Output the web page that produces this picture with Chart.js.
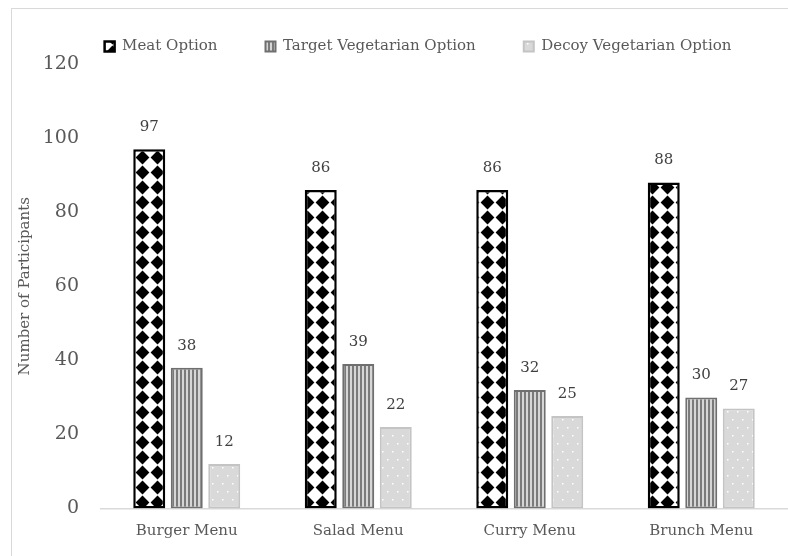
<!DOCTYPE html>
<html>
<head>
<meta charset="utf-8">
<title>Menu choices</title>
<script src="https://cdn.jsdelivr.net/npm/chart.js@4.4.0/dist/chart.umd.min.js"></script>
<style>
  html, body { margin: 0; padding: 0; background: #fff; overflow: hidden; }
  #wrap { position: relative; width: 788px; height: 556px; }
  #frame {
    position: absolute; left: 11px; top: 8px; width: 900px; height: 700px;
    border-left: 1px solid #d9d9d9; border-top: 1px solid #d9d9d9;
    pointer-events: none;
  }
</style>
</head>
<body>
<div id="wrap">
  <canvas id="myChart" width="788" height="556"></canvas>
  <div id="frame"></div>
</div>
<script>
/* globals Chart:false */

var menus = ['Burger Menu', 'Salad Menu', 'Curry Menu', 'Brunch Menu']
var seriesNames = ['Meat Option', 'Target Vegetarian Option', 'Decoy Vegetarian Option']
var meatOption = [97, 86, 86, 88]
var targetVegetarian = [38, 39, 32, 30]
var decoyVegetarian = [12, 22, 25, 27]
var yMax = 120
var yStep = 20

;(function () {
  'use strict'

  var ctx = document.getElementById('myChart')
  var g2d = ctx.getContext('2d')

  // black diamonds on white
  function diamonds () {
    var c = document.createElement('canvas')
    c.width = 15
    c.height = 15
    var g = c.getContext('2d')
    g.fillStyle = '#fff'
    g.fillRect(0, 0, 15, 15)
    g.fillStyle = '#000'
    g.beginPath()
    g.moveTo(7.5, 0.6)
    g.lineTo(14.4, 7.5)
    g.lineTo(7.5, 14.4)
    g.lineTo(0.6, 7.5)
    g.closePath()
    g.fill()
    return g2d.createPattern(c, 'repeat')
  }

  // grey vertical stripes
  function stripes () {
    var c = document.createElement('canvas')
    c.width = 4
    c.height = 4
    var g = c.getContext('2d')
    g.fillStyle = '#d6d6d6'
    g.fillRect(0, 0, 4, 4)
    g.fillStyle = '#7a7a7a'
    g.fillRect(0, 0, 2, 4)
    return g2d.createPattern(c, 'repeat')
  }

  // light grey with small white dots
  function dots () {
    var c = document.createElement('canvas')
    c.width = 10
    c.height = 16
    var g = c.getContext('2d')
    g.fillStyle = '#d9d9d9'
    g.fillRect(0, 0, 10, 16)
    g.fillStyle = '#ffffff'
    g.fillRect(2, 3, 1.5, 1.5)
    g.fillRect(7, 11, 1.5, 1.5)
    return g2d.createPattern(c, 'repeat')
  }

  Chart.defaults.font.family = "'DejaVu Serif', serif"
  Chart.defaults.color = '#595959'

  // value above every bar
  var barValues = {
    id: 'barValues',
    afterDatasetsDraw: function (chart) {
      var c = chart.ctx
      c.save()
      c.font = "15px 'DejaVu Serif', serif"
      c.fillStyle = '#404040'
      c.textAlign = 'center'
      c.textBaseline = 'middle'
      chart.data.datasets.forEach(function (ds, i) {
        chart.getDatasetMeta(i).data.forEach(function (bar, j) {
          c.fillText(ds.data[j], bar.x, bar.y - 22)
        })
      })
      c.restore()
    }
  }

  // legend row sits a little right of the canvas centre
  var legendShift = {
    id: 'legendShift',
    afterLayout: function (chart) {
      if (chart.legend) chart.legend.left = 49
    }
  }

  var barData = {
    labels: menus,
    datasets: [{
      label: seriesNames[0],
      data: meatOption,
      backgroundColor: diamonds(),
      borderColor: '#000',
      borderWidth: 2.5
    }, {
      label: seriesNames[1],
      data: targetVegetarian,
      backgroundColor: stripes(),
      borderColor: '#6f6f6f',
      borderWidth: 2
    }, {
      label: seriesNames[2],
      data: decoyVegetarian,
      backgroundColor: dots(),
      borderColor: '#c4c4c4',
      borderWidth: 2
    }]
  }

  // eslint-disable-next-line no-unused-vars
  var myChart = new Chart(ctx, {
    type: 'bar',
    data: barData,
    plugins: [barValues, legendShift],
    options: {
      responsive: false,
      animation: false,
      layout: {
        padding: { left: 0, right: 1, top: -9, bottom: 0 }
      },
      datasets: {
        bar: {
          categoryPercentage: 0.656,
          barPercentage: 0.853,
          borderSkipped: false
        }
      },
      plugins: {
        tooltip: { enabled: false },
        legend: {
          position: 'top',
          labels: {
            boxWidth: 10,
            boxHeight: 10,
            padding: 48,
            color: '#595959',
            font: { size: 15 }
          }
        }
      },
      scales: {
        x: {
          grid: { display: false, drawTicks: false },
          border: { color: '#d9d9d9', width: 1.5 },
          ticks: { padding: 14, color: '#595959', font: { size: 15 } },
          afterFit: function (scale) { scale.height = 47.5 }
        },
        y: {
          min: 0,
          max: yMax,
          grid: { display: false, drawTicks: false },
          border: { display: false },
          ticks: { stepSize: yStep, padding: 22, color: '#595959', font: { size: 19 } },
          title: {
            display: true,
            text: 'Number of Participants',
            color: '#595959',
            font: { size: 15 },
            padding: { top: 16, bottom: 0 }
          },
          afterFit: function (scale) { scale.width = 101 }
        }
      }
    }
  })
})()
</script>
</body>
</html>
